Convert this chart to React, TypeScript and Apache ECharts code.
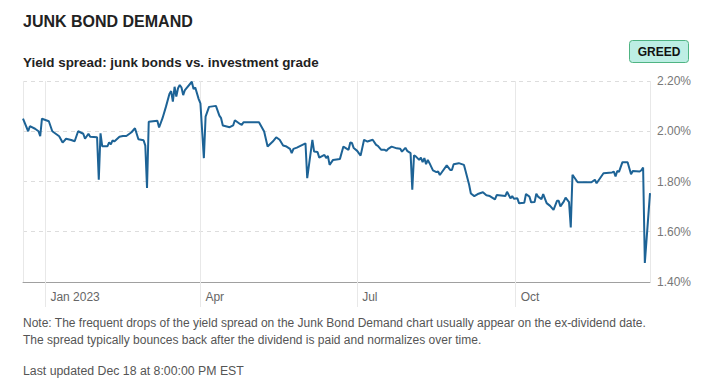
import React, { useEffect, useRef } from "react";
import * as echarts from "echarts";

const dates: string[] = [
  "2022-12-19", "2022-12-22", "2022-12-23", "2022-12-26", "2022-12-28", "2022-12-29", "2022-12-30",
  "2023-01-03", "2023-01-05", "2023-01-06", "2023-01-09", "2023-01-11", "2023-01-13", "2023-01-16",
  "2023-01-18", "2023-01-20", "2023-01-23", "2023-01-24", "2023-01-26", "2023-01-27", "2023-01-31",
  "2023-02-01", "2023-02-02", "2023-02-03", "2023-02-06", "2023-02-07", "2023-02-08", "2023-02-09",
  "2023-02-10", "2023-02-13", "2023-02-15", "2023-02-17", "2023-02-20", "2023-02-22", "2023-02-24",
  "2023-02-27", "2023-02-28", "2023-03-01", "2023-03-02", "2023-03-07", "2023-03-08", "2023-03-10",
  "2023-03-12", "2023-03-14", "2023-03-15", "2023-03-16", "2023-03-17", "2023-03-18", "2023-03-19",
  "2023-03-20", "2023-03-21", "2023-03-22", "2023-03-23", "2023-03-27", "2023-03-28", "2023-03-29",
  "2023-03-31", "2023-04-01", "2023-04-03", "2023-04-04", "2023-04-06", "2023-04-10", "2023-04-12",
  "2023-04-13", "2023-04-14", "2023-04-18", "2023-04-20", "2023-04-21", "2023-04-24", "2023-04-25",
  "2023-04-26", "2023-05-05", "2023-05-08", "2023-05-10", "2023-05-13", "2023-05-15", "2023-05-17",
  "2023-05-19", "2023-05-21", "2023-05-23", "2023-05-24", "2023-05-25", "2023-05-27", "2023-06-01",
  "2023-06-02", "2023-06-05", "2023-06-06", "2023-06-08", "2023-06-09", "2023-06-12", "2023-06-13",
  "2023-06-14", "2023-06-15", "2023-06-17", "2023-06-21", "2023-06-23", "2023-06-26", "2023-06-27",
  "2023-06-28", "2023-06-29", "2023-07-01", "2023-07-03", "2023-07-05", "2023-07-07", "2023-07-10",
  "2023-07-12", "2023-07-13", "2023-07-15", "2023-07-17", "2023-07-18", "2023-07-19", "2023-07-21",
  "2023-07-24", "2023-07-26", "2023-07-27", "2023-07-29", "2023-07-30", "2023-08-01", "2023-08-02",
  "2023-08-03", "2023-08-04", "2023-08-06", "2023-08-07", "2023-08-08", "2023-08-09", "2023-08-10",
  "2023-08-11", "2023-08-12", "2023-08-14", "2023-08-16", "2023-08-17", "2023-08-18", "2023-08-22",
  "2023-08-24", "2023-08-25", "2023-08-26", "2023-08-29", "2023-09-01", "2023-09-02", "2023-09-04",
  "2023-09-05", "2023-09-07", "2023-09-09", "2023-09-12", "2023-09-14", "2023-09-16", "2023-09-19",
  "2023-09-20", "2023-09-25", "2023-09-26", "2023-09-28", "2023-09-29", "2023-09-30", "2023-10-02",
  "2023-10-03", "2023-10-06", "2023-10-07", "2023-10-09", "2023-10-10", "2023-10-12", "2023-10-13",
  "2023-10-14", "2023-10-16", "2023-10-17", "2023-10-19", "2023-10-21", "2023-10-23", "2023-10-25",
  "2023-10-26", "2023-10-27", "2023-10-29", "2023-10-30", "2023-11-01", "2023-11-02", "2023-11-03",
  "2023-11-06", "2023-11-14", "2023-11-16", "2023-11-17", "2023-11-21", "2023-11-26", "2023-11-27",
  "2023-11-28", "2023-11-29", "2023-11-30", "2023-12-02", "2023-12-05", "2023-12-07", "2023-12-08",
  "2023-12-12", "2023-12-13", "2023-12-14", "2023-12-15", "2023-12-18",
];

const spread: number[] = [
  2.05, 2.0, 2.02, 2.01, 2.0, 1.98, 2.05,
  2.04, 2.0, 1.995, 1.98, 1.955, 1.97, 1.965,
  1.96, 2.0, 1.99, 1.97, 1.99, 1.978, 1.976,
  1.807, 1.992, 1.94, 1.94, 1.956, 1.948, 1.964,
  1.959, 1.978, 1.981, 1.981, 1.996, 2.012, 1.968,
  1.964, 1.943, 1.774, 2.038, 2.042, 2.015, 2.052,
  2.098, 2.148, 2.16, 2.118, 2.177, 2.138, 2.171,
  2.184, 2.174, 2.144, 2.164, 2.197, 2.168, 2.174,
  2.128, 2.111, 1.893, 2.058, 2.097, 2.101, 2.062,
  2.052, 2.023, 2.016, 2.023, 2.044, 2.029, 2.025,
  2.036, 2.036, 1.999, 1.939, 1.959, 1.976, 1.966,
  1.943, 1.939, 1.93, 1.913, 1.93, 1.935, 1.952,
  1.813, 1.966, 1.919, 1.917, 1.895, 1.906, 1.893,
  1.902, 1.866, 1.886, 1.89, 1.939, 1.926, 1.955,
  1.953, 1.933, 1.922, 1.903, 1.966, 1.959, 1.966,
  1.946, 1.942, 1.926, 1.926, 1.922, 1.93, 1.939,
  1.932, 1.93, 1.919, 1.934, 1.922, 1.913, 1.767,
  1.904, 1.9, 1.886, 1.895, 1.877, 1.893, 1.869,
  1.886, 1.873, 1.844, 1.837, 1.84, 1.826, 1.864,
  1.846, 1.846, 1.869, 1.873, 1.866, 1.84, 1.787,
  1.752, 1.742, 1.75, 1.757, 1.745, 1.742, 1.729,
  1.746, 1.742, 1.759, 1.733, 1.742, 1.731, 1.733,
  1.713, 1.715, 1.75, 1.74, 1.717, 1.718, 1.751,
  1.74, 1.73, 1.75, 1.714, 1.703, 1.687, 1.723,
  1.723, 1.701, 1.721, 1.736, 1.718, 1.617, 1.827,
  1.797, 1.797, 1.807, 1.793, 1.833, 1.836, 1.839,
  1.82, 1.842, 1.838, 1.877, 1.877, 1.829, 1.842,
  1.84, 1.845, 1.856, 1.476, 1.754,
];

const monthNames = ["Jan", "Feb", "Mar", "Apr", "May", "Jun", "Jul", "Aug", "Sep", "Oct", "Nov", "Dec"];
const yTicks = { min: 1.4, max: 2.2, interval: 0.2 };
const xRange = { min: "2022-12-19", max: "2023-12-18" };

const FONT = "'Liberation Sans', Arial, Helvetica, sans-serif";

export default function App() {
  const ref = useRef<HTMLDivElement>(null);

  useEffect(() => {
    if (!ref.current) return;
    const chart = echarts.init(ref.current, undefined, { renderer: "svg" });
    const data = dates.map((d, i) => [d, spread[i]]);
    chart.setOption({
      animation: false,
      backgroundColor: "#ffffff",
      textStyle: { fontFamily: FONT },
      title: [
        {
          text: "JUNK BOND DEMAND",
          left: 23,
          top: 13,
          padding: 0,
          textStyle: { fontSize: 16, fontWeight: "bold", color: "#222222", fontFamily: FONT },
        },
        {
          text: "Yield spread: junk bonds vs. investment grade",
          left: 23,
          top: 56,
          padding: 0,
          textStyle: { fontSize: 13.4, fontWeight: "bold", color: "#222222", fontFamily: FONT },
        },
      ],
      grid: { left: 23, right: 62, top: 81, bottom: 103, containLabel: false },
      xAxis: {
        type: "time",
        min: xRange.min,
        max: xRange.max,
        splitNumber: 4,
        axisLine: { show: true, lineStyle: { color: "#a0a0a0", width: 1 } },
        axisTick: { show: true, length: 25, lineStyle: { color: "#e8e8e8" } },
        splitLine: { show: true, lineStyle: { color: "#e8e8e8", type: "solid" } },
        axisLabel: {
          color: "#666666",
          fontSize: 12,
          fontFamily: FONT,
          align: "left",
          margin: 9,
          padding: [0, 0, 0, 5],
          hideOverlap: false,
          formatter: (val: number) => {
            const d = new Date(val);
            const m = d.getMonth();
            return m === 0 ? `${monthNames[m]} ${d.getFullYear()}` : monthNames[m];
          },
        },
      },
      yAxis: {
        type: "value",
        position: "right",
        min: yTicks.min,
        max: yTicks.max,
        interval: yTicks.interval,
        axisLine: { show: false },
        axisTick: { show: false },
        splitLine: { show: true, lineStyle: { color: "#dddddd", type: [4, 4] } },
        axisLabel: {
          color: "#777777",
          fontSize: 12,
          fontFamily: FONT,
          margin: 7,
          formatter: (v: number) => `${v.toFixed(2)}%`,
        },
      },
      series: [
        {
          type: "line",
          data,
          showSymbol: false,
          symbol: "none",
          smooth: false,
          lineStyle: { color: "#1d6396", width: 2 },
        },
      ],
      graphic: [
        {
          type: "group",
          left: 629,
          top: 40,
          children: [
            {
              type: "rect",
              shape: { x: 0, y: 0, width: 59, height: 22, r: 3 },
              style: { fill: "#bdeee4", stroke: "#4fb483", lineWidth: 1 },
            },
            {
              type: "text",
              x: 29.5,
              y: 11,
              style: {
                text: "GREED",
                fill: "#111111",
                font: `bold 12px ${FONT}`,
                textAlign: "center",
                textVerticalAlign: "middle",
              },
            },
          ],
        },
        {
          type: "text",
          left: 23,
          top: 314,
          style: {
            text:
              "Note: The frequent drops of the yield spread on the Junk Bond Demand chart usually appear on the ex-dividend date.\nThe spread typically bounces back after the dividend is paid and normalizes over time.",
            fill: "#555555",
            font: `12px ${FONT}`,
            lineHeight: 17,
          },
        },
        {
          type: "text",
          left: 23,
          top: 365,
          style: {
            text: "Last updated Dec 18 at 8:00:00 PM EST",
            fill: "#555555",
            font: `12.3px ${FONT}`,
          },
        },
      ],
    });
    return () => chart.dispose();
  }, []);

  return <div ref={ref} style={{ width: 712, height: 385, position: "absolute", left: 0, top: 0 }} />;
}
